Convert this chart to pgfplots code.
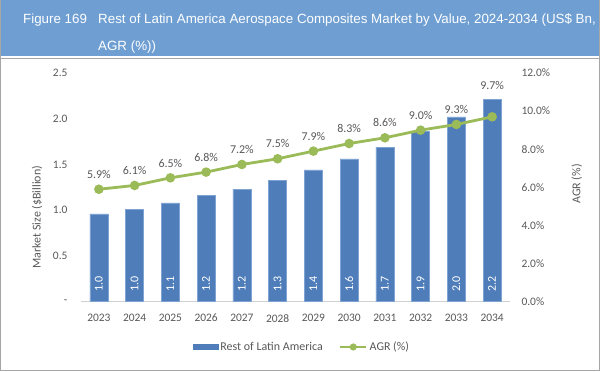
\documentclass[border=0pt]{standalone}
\usepackage{fontspec}
\setmainfont{Carlito}
\newfontfamily\titlefont{Liberation Sans}
\usepackage{pgfplots}
\pgfplotsset{compat=1.18}
\usepackage{pgfplotstable}
\definecolor{barblue}{HTML}{4F7DBA}
\definecolor{baredge}{HTML}{7FA3D3}
\definecolor{agrgreen}{HTML}{9BBB59}
\definecolor{titleblue}{HTML}{6F9FD2}
\definecolor{labelgray}{HTML}{595959}
\definecolor{axisgray}{HTML}{D0D0D0}
\definecolor{framegray}{HTML}{A6A6A6}

\pgfplotstableread{
year size agr lift
2023 0.96 5.9 6
2024 1.01 6.1 6
2025 1.08 6.5 6
2026 1.16 6.8 6
2027 1.23 7.2 6
2028 1.33 7.5 6
2029 1.44 7.9 6
2030 1.56 8.3 6
2031 1.69 8.6 6
2032 1.86 9.0 6
2033 2.02 9.3 6
2034 2.21 9.7 23
}\datatable

\begin{document}
\begin{tikzpicture}[x=1bp,y=1bp]
\useasboundingbox (0,0) rectangle (600,371);
\fill[white] (0,0) rectangle (600,371);
\fill[titleblue] (0,371) rectangle (600,371-56);
\draw[framegray, line width=1.2bp] (0,371-58.5) -- (600,371-58.5);
\draw[framegray, line width=1.2bp] (0.6,371) -- (0.6,0.6) -- (599.4,0.6) -- (599.4,371);
\node[anchor=base west, inner sep=0pt, text=white, font=\titlefont\fontsize{13.4}{16}\selectfont] at (23,371-23) {Figure 169};
\node[anchor=base west, inner sep=0pt, text=white, font=\titlefont\fontsize{13.4}{16}\selectfont] at (98,371-23) {Rest of Latin America Aerospace Composites Market by Value, 2024-2034 (US\$ Bn,};
\node[anchor=base west, inner sep=0pt, text=white, font=\titlefont\fontsize{13.4}{16}\selectfont] at (98,371-50) {AGR (\%))};

\begin{axis}[
  at={(81bp,69.3bp)}, anchor=south west,
  scale only axis, width=429bp, height=228.7bp,
  xmin=2022.5, xmax=2034.5, ymin=0, ymax=2.5,
  /pgf/number format/assume math mode=true,
  axis x line*=bottom, axis y line*=left,
  y axis line style={draw=none},
  x axis line style={draw=axisgray, line width=1bp},
  major tick length=0pt,
  xtick={2023,2024,2025,2026,2027,2028,2029,2030,2031,2032,2033,2034},
  xticklabels={2023,2024,2025,2026,2027,2028,2029,2030,2031,2032,2033,2034},
  ytick={0,0.5,1.0,1.5,2.0,2.5},
  yticklabels={-\hspace{5bp},0.5,1.0,1.5,2.0,2.5},
  tick label style={font=\fontsize{11.5}{13}\selectfont, text=labelgray},
  yticklabel style={xshift=-10bp},
  xticklabel style={yshift=-9bp},
  ylabel={Market Size (\$Billion)},
  every axis y label/.style={at={(axis description cs:-0.1026,0.37)}, rotate=90, anchor=center, font=\fontsize{12}{14}\selectfont, text=labelgray},
  legend style={at={(axis description cs:0.515,-0.198)}, anchor=center, draw=none, fill=none,
    legend columns=2, font=\fontsize{12}{14}\selectfont, text=labelgray,
    /tikz/every even column/.append style={column sep=14bp},
    nodes={inner sep=2bp}},
  clip=false,
]
\addplot[ybar, bar width=18bp, fill=barblue, draw=baredge, line width=0.6bp,
  legend image code/.code={\fill[barblue] (0bp,-2.3bp) rectangle (25bp,2.3bp);}]
  table[x=year, y=size] {\datatable};
\addlegendentry{Rest of Latin America}
\addplot[draw=none, mark=none, forget plot,
  point meta=explicit,
  nodes near coords={\pgfmathprintnumber[fixed,fixed zerofill,precision=1,assume math mode=true]{\pgfplotspointmeta}},
  every node near coord/.style={rotate=90, anchor=west, xshift=10bp, inner sep=0pt, text=white, font=\fontsize{12}{14}\selectfont}]
  table[x=year, y expr=0, meta=size] {\datatable};
\addlegendimage{legend image code/.code={\draw[agrgreen, line width=2.8bp] (0bp,0bp) -- (26bp,0bp); \fill[agrgreen] (13bp,0bp) circle (3.3bp);}}
\addlegendentry{AGR (\%)}
\end{axis}

\begin{axis}[
  at={(81bp,69.3bp)}, anchor=south west,
  scale only axis, width=429bp, height=228.7bp,
  xmin=2022.5, xmax=2034.5, ymin=0, ymax=12,
  /pgf/number format/assume math mode=true,
  hide x axis, axis y line*=right,
  y axis line style={draw=none},
  major tick length=0pt,
  ytick={0,2,4,6,8,10,12},
  yticklabels={0.0\%,2.0\%,4.0\%,6.0\%,8.0\%,10.0\%,12.0\%},
  tick label style={font=\fontsize{11.5}{13}\selectfont, text=labelgray},
  yticklabel style={xshift=8bp},
  ylabel={AGR (\%)},
  every axis y label/.style={at={(axis description cs:1.1555,0.515)}, rotate=90, anchor=center, font=\fontsize{12}{14}\selectfont, text=labelgray},
  clip=false,
]
\addplot[agrgreen, line width=2.8bp, mark=*, mark size=3.3bp, mark options={fill=agrgreen, draw=agrgreen},
  point meta=explicit,
  visualization depends on={\thisrow{lift} \as \mylift},
  nodes near coords={\pgfmathprintnumber[fixed,fixed zerofill,precision=1,assume math mode=true]{\pgfplotspointmeta}\%},
  every node near coord/.style={anchor=south, yshift=\mylift bp, text=labelgray, font=\fontsize{12}{14}\selectfont}]
  table[x=year, y=agr, meta=agr] {\datatable};
\end{axis}
\end{tikzpicture}
\end{document}
